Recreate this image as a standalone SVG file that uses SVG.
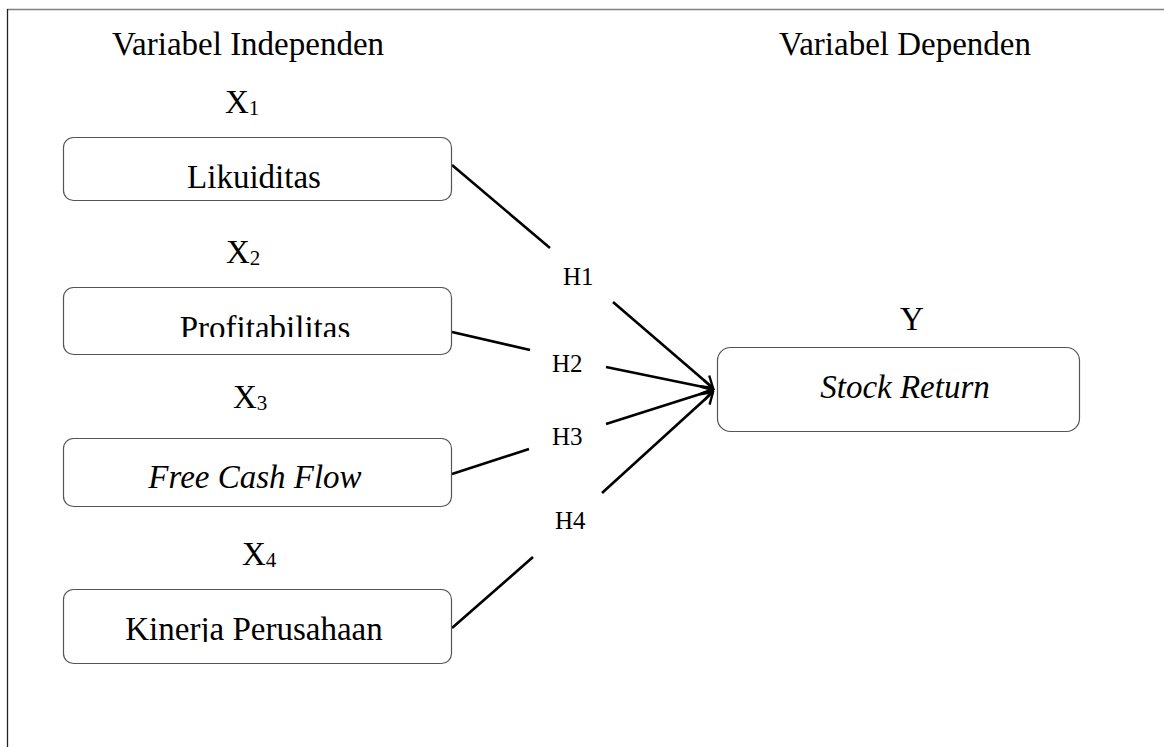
<svg xmlns="http://www.w3.org/2000/svg" width="1164" height="747" viewBox="0 0 1164 747">
<style>
.t{font-family:"Liberation Serif","Times New Roman",serif;font-size:33px;fill:#000}
.i{font-style:italic}
.h{font-family:"Liberation Serif","Times New Roman",serif;font-size:25px;fill:#000}
.s{font-size:21px}
.box{fill:#fff;stroke:#555;stroke-width:1.2}
.ln{fill:none;stroke:#000;stroke-width:2.6}
</style>
<defs>
<marker id="a" viewBox="-12 -8 14 16" refX="0" refY="0" markerWidth="14" markerHeight="16" orient="auto" markerUnits="userSpaceOnUse">
<path d="M-11,-7 L0,0 L-11,7" fill="none" stroke="#000" stroke-width="2.4"/>
</marker>
<clipPath id="c2"><rect x="63" y="287" width="388" height="50"/></clipPath>
<clipPath id="c4"><rect x="63" y="589" width="388" height="53"/></clipPath>
</defs>
<g id="frame">
<line x1="7" y1="9.5" x2="1164" y2="9.5" stroke="#808080" stroke-width="1.5"/>
<line x1="7.5" y1="9" x2="7.5" y2="747" stroke="#222" stroke-width="1.3"/>
</g>
<g id="headers">
<text class="t" x="248" y="55" text-anchor="middle">Variabel Independen</text>
<text class="t" x="905" y="55" text-anchor="middle">Variabel Dependen</text>
</g>
<g id="connectors">
<path class="ln" d="M452,165 L550,248"/>
<path class="ln" d="M613,302 L713,388" marker-end="url(#a)"/>
<path class="ln" d="M452,332 L530,350"/>
<path class="ln" d="M606,367 L713,389" marker-end="url(#a)"/>
<path class="ln" d="M452,474 L529,449"/>
<path class="ln" d="M606,424 L713,390" marker-end="url(#a)"/>
<path class="ln" d="M452,628 L533,557"/>
<path class="ln" d="M602,493 L713,392" marker-end="url(#a)"/>
<text class="h" x="563" y="285">H1</text>
<text class="h" x="552" y="372">H2</text>
<text class="h" x="552" y="445">H3</text>
<text class="h" x="555" y="529">H4</text>
</g>
<g id="x1">
<text class="t" x="225" y="113">X<tspan class="s" dy="2">1</tspan></text>
<rect class="box" x="63.5" y="137.5" width="388" height="63" rx="10"/>
<text class="t" x="254" y="188" text-anchor="middle">Likuiditas</text>
</g>
<g id="x2">
<text class="t" x="226" y="263">X<tspan class="s" dy="2">2</tspan></text>
<rect class="box" x="63.5" y="287.5" width="388" height="67" rx="10"/>
<text class="t" x="265" y="339" text-anchor="middle" clip-path="url(#c2)">Profitabilitas</text>
</g>
<g id="x3">
<text class="t" x="233" y="408">X<tspan class="s" dy="2">3</tspan></text>
<rect class="box" x="63.5" y="438.5" width="388" height="68" rx="10"/>
<text class="t i" x="255" y="488" text-anchor="middle">Free Cash Flow</text>
</g>
<g id="x4">
<text class="t" x="242" y="565">X<tspan class="s" dy="2">4</tspan></text>
<rect class="box" x="63.5" y="589.5" width="388" height="74" rx="10"/>
<text class="t" x="254" y="640" text-anchor="middle" clip-path="url(#c4)">Kinerja Perusahaan</text>
</g>
<g id="y">
<text class="t" x="912" y="330" text-anchor="middle">Y</text>
<rect class="box" x="717.5" y="347.5" width="362" height="84" rx="13"/>
<text class="t i" x="905" y="398" text-anchor="middle">Stock Return</text>
</g>
</svg>
